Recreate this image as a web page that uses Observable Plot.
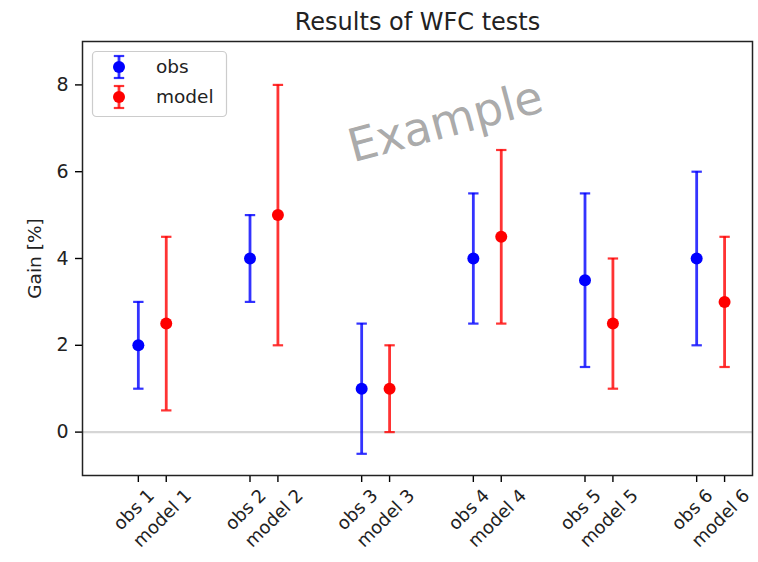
<!DOCTYPE html>
<html><head><meta charset="utf-8">
<script src="https://cdn.jsdelivr.net/npm/d3@7"></script>
<script src="https://cdn.jsdelivr.net/npm/@observablehq/plot@0.6"></script>
<style>body{margin:0;background:#fff} #chart{position:relative;width:758px;height:562px}</style>
</head><body><div id="chart"></div>
<script>
// ---- data ----
const title = "Results of WFC tests";
const yLabel = "Gain [%]";
const watermark = "Example";
const seriesNames = ["obs", "model"];
const seriesColors = ["blue", "red"];
const obsLabels = ["obs 1", "obs 2", "obs 3", "obs 4", "obs 5", "obs 6"];
const modelLabels = ["model 1", "model 2", "model 3", "model 4", "model 5", "model 6"];
const obsX = [1, 2, 3, 4, 5, 6];
const modelX = [1.25, 2.25, 3.25, 4.25, 5.25, 6.25];
const obsVal = [2, 4, 1, 4, 3.5, 4];
const obsLo = [1, 3, -0.5, 2.5, 1.5, 2];
const obsHi = [3, 5, 2.5, 5.5, 5.5, 6];
const modelVal = [2.5, 5, 1, 4.5, 2.5, 3];
const modelLo = [0.5, 2, 0, 2.5, 1, 1.5];
const modelHi = [4.5, 8, 2, 6.5, 4, 4.5];
const yTicks = [0, 2, 4, 6, 8];

const obsRows = obsX.map((x, i) => ({x, label: obsLabels[i], v: obsVal[i], lo: obsLo[i], hi: obsHi[i]}));
const modelRows = modelX.map((x, i) => ({x, label: modelLabels[i], v: modelVal[i], lo: modelLo[i], hi: modelHi[i]}));

const capSymbol = {draw(ctx, size) { const w = Math.sqrt(size / Math.PI); ctx.moveTo(-w, 0); ctx.lineTo(w, 0); }};

function seriesMarks(rows, color) {
  return [
    Plot.ruleX(rows, {x: "x", y1: "lo", y2: "hi", stroke: color, strokeWidth: 2.8, strokeOpacity: 0.8}),
    Plot.dot(rows, {x: "x", y: "lo", symbol: capSymbol, r: 5.2, stroke: color, strokeWidth: 2.2, strokeOpacity: 0.8, fill: "none"}),
    Plot.dot(rows, {x: "x", y: "hi", symbol: capSymbol, r: 5.2, stroke: color, strokeWidth: 2.2, strokeOpacity: 0.8, fill: "none"}),
    Plot.dot(rows, {x: "x", y: "v", r: 6, fill: color, stroke: "none"})
  ];
}

const plot = Plot.plot({
  width: 758, height: 562,
  marginLeft: 82, marginRight: 6, marginTop: 41, marginBottom: 87,
  style: {fontFamily: "DejaVu Sans", fontSize: "19px", background: "white", color: "black", overflow: "visible"},
  x: {domain: [0.5, 6.5]},
  y: {domain: [-1, 9]},
  marks: [
    Plot.ruleY([0], {stroke: "#d6d6d6", strokeWidth: 2.2}),
    Plot.axisY({ticks: yTicks, tickSize: 7, tickPadding: 7, fontSize: 19, label: null, stroke: "black", strokeWidth: 1.4, fill: "#222"}),
    Plot.axisX({ticks: [...obsX, ...modelX], tickSize: 7, tickFormat: () => "", label: null, stroke: "black", strokeWidth: 1.4}),
    Plot.text(obsRows, {x: "x", text: "label", frameAnchor: "bottom", rotate: -45, textAnchor: "end", lineAnchor: "middle", dx: 13, dy: 17, fontSize: 18, fill: "#222"}),
    Plot.text(modelRows, {x: "x", text: "label", frameAnchor: "bottom", rotate: -45, textAnchor: "end", lineAnchor: "middle", dx: 22, dy: 17, fontSize: 18, fill: "#222"}),
    Plot.text([yLabel], {text: d => d, frameAnchor: "left", dx: -47, rotate: -90, textAnchor: "middle", lineAnchor: "middle", fontSize: 18.5, fill: "#222"}),
    Plot.text([title], {text: d => d, frameAnchor: "top", dy: -12, lineAnchor: "bottom", fontSize: 24, fill: "#222"}),
    ...seriesMarks(obsRows, seriesColors[0]),
    ...seriesMarks(modelRows, seriesColors[1]),
    Plot.text([watermark], {text: d => d, frameAnchor: "middle", dx: 28, dy: -136, rotate: -15, fontSize: 46, fill: "gray", fillOpacity: 0.68, lineAnchor: "middle"}),
    Plot.frame({stroke: "#222", strokeWidth: 1.5})
  ]
});

// legend (upper left, inside axes)
const svg = d3.select(plot);
const lg = svg.append("g").attr("class", "legend").attr("text-anchor", "start");
lg.append("rect").attr("x", 92.5).attr("y", 51.5).attr("width", 134).attr("height", 65).attr("rx", 4)
  .attr("fill", "white").attr("fill-opacity", 0.8).attr("stroke", "#cccccc").attr("stroke-width", 1.2);
seriesNames.forEach((name, i) => {
  const cy = 67 + i * 30, cx = 119, color = seriesColors[i];
  const g = lg.append("g");
  g.append("line").attr("x1", cx).attr("x2", cx).attr("y1", cy - 11).attr("y2", cy + 11)
    .attr("stroke", color).attr("stroke-width", 2.8).attr("stroke-opacity", 0.8);
  [cy - 11, cy + 11].forEach(yy => g.append("line").attr("x1", cx - 5.2).attr("x2", cx + 5.2).attr("y1", yy).attr("y2", yy)
    .attr("stroke", color).attr("stroke-width", 2.2).attr("stroke-opacity", 0.8));
  g.append("circle").attr("cx", cx).attr("cy", cy).attr("r", 6).attr("fill", color);
  g.append("text").attr("x", 156).attr("y", cy).attr("dy", "0.35em").attr("font-size", 18.5).attr("fill", "#222").text(name);
});

document.getElementById("chart").appendChild(plot);
</script>
</body></html>
